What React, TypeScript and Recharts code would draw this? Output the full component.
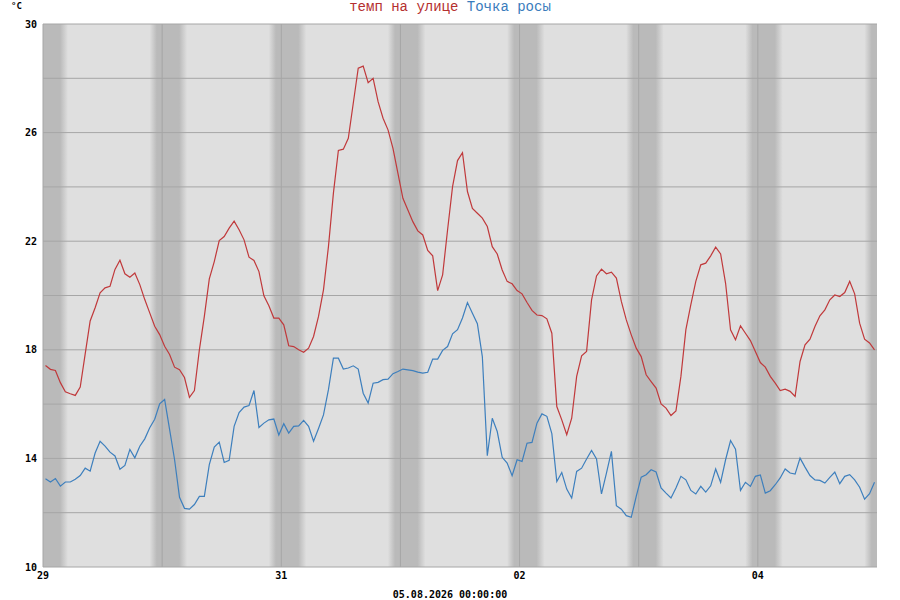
import React from 'react';
import { LineChart, Line, XAxis, YAxis, ReferenceArea, ReferenceLine } from 'recharts';

// hourly samples starting 29 Jul 00:30, 168 values
const tempOutside = [
  17.42, 17.28, 17.24, 16.79, 16.45, 16.38, 16.32, 16.63, 17.85, 19.06, 19.55, 20.1,
  20.28, 20.34, 20.96, 21.3, 20.8, 20.67, 20.83, 20.4, 19.85, 19.36, 18.87, 18.56,
  18.13, 17.83, 17.36, 17.27, 16.98, 16.25, 16.5, 18.0, 19.23, 20.61, 21.25, 22.02,
  22.17, 22.48, 22.74, 22.42, 22.05, 21.41, 21.29, 20.88, 19.99, 19.62, 19.17, 19.17,
  18.92, 18.15, 18.12, 18.0, 17.91, 18.06, 18.49, 19.23, 20.21, 21.8, 23.77, 25.34,
  25.39, 25.79, 27.08, 28.37, 28.45, 27.84, 28.0, 27.14, 26.53, 26.1, 25.42, 24.5,
  23.58, 23.15, 22.72, 22.38, 22.23, 21.66, 21.46, 20.18, 20.76, 22.42, 24.01, 24.97,
  25.26, 23.83, 23.21, 23.03, 22.85, 22.54, 21.8, 21.53, 20.94, 20.52, 20.43, 20.18,
  20.06, 19.74, 19.45, 19.28, 19.26, 19.14, 18.61, 15.91, 15.42, 14.87, 15.48, 17.02,
  17.78, 17.94, 19.84, 20.72, 20.97, 20.8, 20.86, 20.64, 19.78, 19.1, 18.55, 18.06,
  17.75, 17.08, 16.83, 16.59, 16.01, 15.85, 15.58, 15.75, 17.02, 18.74, 19.66, 20.52,
  21.13, 21.19, 21.46, 21.78, 21.53, 20.45, 18.74, 18.37, 18.88, 18.61, 18.34, 17.94,
  17.53, 17.36, 17.02, 16.77, 16.5, 16.55, 16.47, 16.28, 17.57, 18.18, 18.39, 18.86,
  19.25, 19.47, 19.84, 20.02, 19.96, 20.11, 20.52, 20.06, 18.98, 18.39, 18.25, 18.0,
];

const dewPoint = [
  13.25, 13.13, 13.26, 12.98, 13.13, 13.13, 13.23, 13.37, 13.64, 13.53, 14.2, 14.63,
  14.45, 14.23, 14.09, 13.6, 13.74, 14.33, 14.02, 14.45, 14.72, 15.13, 15.44, 16.01,
  16.17, 15.07, 13.96, 12.57, 12.16, 12.13, 12.3, 12.6, 12.6, 13.77, 14.42, 14.6,
  13.85, 13.93, 15.18, 15.69, 15.89, 15.95, 16.5, 15.14, 15.3, 15.42, 15.45, 14.86,
  15.28, 14.93, 15.18, 15.2, 15.4, 15.18, 14.63, 15.1, 15.6, 16.53, 17.69, 17.69,
  17.29, 17.33, 17.41, 17.29, 16.4, 16.04, 16.77, 16.8, 16.9, 16.92, 17.12, 17.2,
  17.29, 17.26, 17.23, 17.18, 17.14, 17.17, 17.66, 17.66, 17.98, 18.12, 18.59, 18.74,
  19.17, 19.74, 19.35, 18.96, 17.75, 14.1, 15.48, 14.99, 14.04, 13.83, 13.36, 13.95,
  13.89, 14.56, 14.59, 15.3, 15.64, 15.55, 14.91, 13.15, 13.48, 12.87, 12.54, 13.52,
  13.64, 13.98, 14.29, 13.98, 12.69, 13.46, 14.26, 12.26, 12.13, 11.89, 11.83, 12.6,
  13.31, 13.4, 13.58, 13.5, 12.91, 12.72, 12.54, 12.91, 13.34, 13.21, 12.82, 12.69,
  12.97, 12.76, 12.99, 13.61, 13.12, 13.95, 14.66, 14.34, 12.82, 13.12, 12.97, 13.34,
  13.39, 12.72, 12.81, 13.03, 13.28, 13.61, 13.46, 13.42, 14.01, 13.68, 13.37, 13.21,
  13.19, 13.09, 13.3, 13.5, 13.07, 13.34, 13.4, 13.21, 12.94, 12.5, 12.7, 13.12,
];

// hours since 29 Jul 00:00
const dayTicks = [0, 48, 96, 144];
const dayLabels = ['29', '31', '02', '04'];
const dayLines = [24, 48, 72, 96, 120, 144];
const nightBands: [number, number][] = [
  [-2.5, 5.0], [21.5, 29.0], [45.5, 53.0], [69.5, 77.0],
  [93.5, 101.0], [117.5, 125.0], [141.5, 149.0], [165.5, 173.0],
];
const yLabelTicks = [10, 14, 18, 22, 26, 30];
const yGridLines = [12, 14, 16, 18, 20, 22, 24, 26, 28, 30];

const titleTemp = 'темп на улице';
const titleDew = 'Точка росы';
const unitLabel = '°C';
const dateLabel = '05.08.2026 00:00:00';

const rows = tempOutside.map((v, i) => ({ t: i + 0.5, temp: v, dew: dewPoint[i] }));

const mono = 'DejaVu Sans Mono, monospace';
const tickStyle = { fontSize: 10, fontFamily: mono, fill: '#000', fontWeight: 'bold' as const };
const gridColor = '#a6a6a6';

export default function App() {
  return (
    <div style={{ position: 'absolute', left: 0, top: 0, width: 900, height: 600, background: '#fff' }}>
      <LineChart width={900} height={600} data={rows} margin={{ top: 24, right: 23, bottom: 0, left: 0 }}>
        <defs>
          <linearGradient id="nightGrad" x1="0" y1="0" x2="1" y2="0">
            <stop offset="0" stopColor="#dedede" />
            <stop offset="0.19" stopColor="#bababa" />
            <stop offset="0.79" stopColor="#bababa" />
            <stop offset="1" stopColor="#dedede" />
          </linearGradient>
        </defs>
        <XAxis
          dataKey="t"
          type="number"
          domain={[0, 168]}
          allowDataOverflow
          ticks={dayTicks}
          tickFormatter={(v: number) => dayLabels[dayTicks.indexOf(v)] ?? ''}
          tickLine={false}
          tickSize={0}
          tickMargin={5}
          height={33}
          axisLine={{ stroke: gridColor }}
          tick={tickStyle}
          interval={0}
        />
        <YAxis
          type="number"
          domain={[10, 30]}
          allowDataOverflow
          ticks={yLabelTicks}
          tickLine={false}
          tickSize={0}
          tickMargin={6}
          width={43}
          axisLine={{ stroke: gridColor }}
          tick={tickStyle}
          interval={0}
        />
        <ReferenceArea x1={0} x2={168} y1={10} y2={30} fill="#dfdfdf" fillOpacity={1} stroke="none" ifOverflow="hidden" />
        {nightBands.map(([a, b], k) => (
          <ReferenceArea key={'n' + k} x1={a} x2={b} y1={10} y2={30} fill="url(#nightGrad)" fillOpacity={1} stroke="none" ifOverflow="hidden" />
        ))}
        {yGridLines.map((y) => (
          <ReferenceLine key={'y' + y} y={y} stroke={gridColor} strokeWidth={1} />
        ))}
        {dayLines.map((x) => (
          <ReferenceLine key={'x' + x} x={x} stroke={gridColor} strokeWidth={1} />
        ))}
        <Line type="linear" dataKey="temp" stroke="#c0393b" strokeWidth={1.2} dot={false} activeDot={false} isAnimationActive={false} />
        <Line type="linear" dataKey="dew" stroke="#3d7fbd" strokeWidth={1.2} dot={false} activeDot={false} isAnimationActive={false} />
      </LineChart>
      <div style={{ position: 'absolute', left: 0, top: 0, width: 900, textAlign: 'center', fontFamily: 'Liberation Mono, monospace', fontSize: 14, lineHeight: '14px', whiteSpace: 'pre' }}>
        <span style={{ color: '#b52f2f' }}>{titleTemp}</span> <span style={{ color: '#3a7cbc' }}>{titleDew}</span>
      </div>
      <div style={{ position: 'absolute', left: 11, top: 2, fontFamily: mono, fontSize: 9, lineHeight: '9px', fontWeight: 'bold', color: '#000' }}>{unitLabel}</div>
      <div style={{ position: 'absolute', left: 0, top: 590, width: 900, textAlign: 'center', fontFamily: mono, fontSize: 10, lineHeight: '10px', fontWeight: 'bold', color: '#000' }}>{dateLabel}</div>
    </div>
  );
}
